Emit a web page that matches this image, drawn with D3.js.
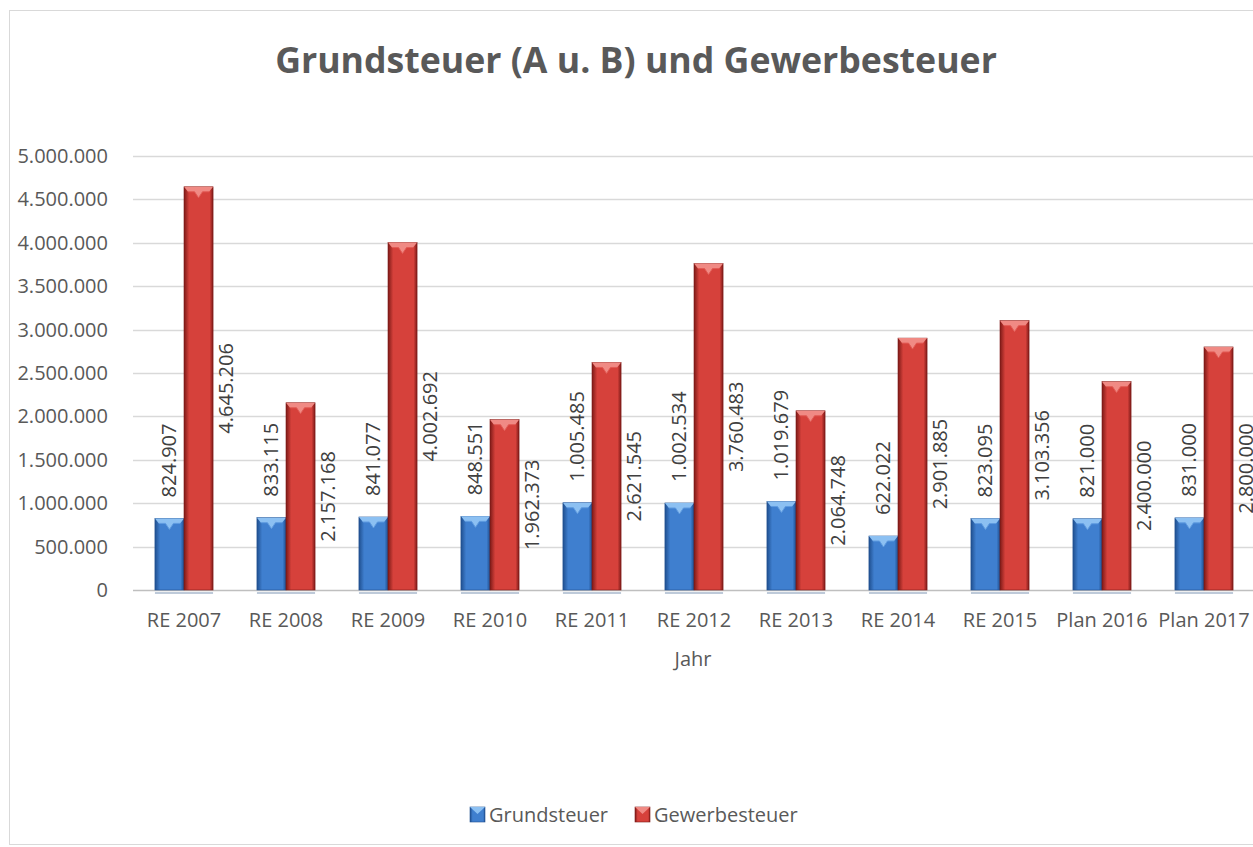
<!DOCTYPE html>
<html>
<head>
<meta charset="utf-8">
<script src="https://cdn.jsdelivr.net/npm/d3@7"></script>
<style>
  body { margin: 0; background: #fff; }
  svg { display: block; font-family: 'Open Sans', sans-serif; }
</style>
</head>
<body>
<div id="chart"></div>
<script>
'use strict';

var categories = ['RE 2007', 'RE 2008', 'RE 2009', 'RE 2010', 'RE 2011', 'RE 2012', 'RE 2013', 'RE 2014', 'RE 2015', 'Plan 2016', 'Plan 2017'];
var grundsteuer = [824907, 833115, 841077, 848551, 1005485, 1002534, 1019679, 622022, 823095, 821000, 831000];
var gewerbesteuer = [4645206, 2157168, 4002692, 1962373, 2621545, 3760483, 2064748, 2901885, 3103356, 2400000, 2800000];
var seriesNames = ['Grundsteuer', 'Gewerbesteuer'];
var yMax = 5000000;

var width = 1253, height = 847;
var margin = {top: 156, right: -2, bottom: 257, left: 133};

var de = d3.formatLocale({decimal: ',', thousands: '.', grouping: [3], currency: ['', ' €']});
var fmt = de.format(',d');

// bevel colours per series: [edge, mid, light top]
var palette = [
  {dark: '#1f4f8f', mid: '#3f7fcf', light: '#8cc0f2', top: '#5f9be0'},
  {dark: '#7d1a17', mid: '#d6413b', light: '#f08a84', top: '#e25b55'}
];

var svg = d3.select('#chart').append('svg')
  .attr('width', width)
  .attr('height', height);

var defs = svg.append('defs');
palette.forEach(function(p, i) {
  var g = defs.append('linearGradient').attr('id', 'grad' + i)
    .attr('x1', '0%').attr('x2', '100%').attr('y1', '0%').attr('y2', '0%');
  g.append('stop').attr('offset', '0%').attr('stop-color', p.dark);
  g.append('stop').attr('offset', '18%').attr('stop-color', p.mid);
  g.append('stop').attr('offset', '55%').attr('stop-color', p.mid);
  g.append('stop').attr('offset', '88%').attr('stop-color', p.mid);
  g.append('stop').attr('offset', '100%').attr('stop-color', p.dark);
});

// outer chart border
svg.append('rect')
  .attr('x', 9.5).attr('y', 10.5)
  .attr('width', width + 20).attr('height', height - 13)
  .attr('fill', 'none').attr('stroke', '#d9d9d9');

var x = d3.scaleBand()
  .domain(categories)
  .range([margin.left, width - margin.right])
  .paddingInner(0.43)
  .paddingOuter(0.215);

var xs = d3.scaleBand().domain([0, 1]).range([0, x.bandwidth()]);

var y = d3.scaleLinear()
  .domain([0, yMax])
  .range([height - margin.bottom, margin.top]);

// grid
svg.append('g').selectAll('line')
  .data(y.ticks(10))
  .join('line')
  .attr('x1', margin.left).attr('x2', width)
  .attr('y1', function(d) { return Math.round(y(d)) + 0.5; })
  .attr('y2', function(d) { return Math.round(y(d)) + 0.5; })
  .attr('stroke', function(d) { return d === 0 ? '#bfbfbf' : '#d9d9d9'; })
  .attr('stroke-width', 1.5);

// y tick labels
svg.append('g').selectAll('text')
  .data(y.ticks(10))
  .join('text')
  .attr('x', 108)
  .attr('y', function(d) { return y(d); })
  .attr('dy', '0.35em')
  .attr('text-anchor', 'end')
  .attr('font-size', 20)
  .attr('fill', '#595959')
  .text(function(d) { return fmt(d); });

// x tick labels
svg.append('g').selectAll('text')
  .data(categories)
  .join('text')
  .attr('x', function(d) { return x(d) + x.bandwidth() / 2; })
  .attr('y', 627)
  .attr('text-anchor', 'middle')
  .attr('font-size', 20)
  .attr('fill', '#595959')
  .text(function(d) { return d; });

svg.append('text')
  .attr('x', (margin.left + width) / 2)
  .attr('y', 666)
  .attr('text-anchor', 'middle')
  .attr('font-size', 20)
  .attr('fill', '#595959')
  .text('Jahr');

// bars
var rows = categories.map(function(c, i) {
  return {cat: c, values: [grundsteuer[i], gewerbesteuer[i]]};
});

var groups = svg.append('g').selectAll('g')
  .data(rows)
  .join('g')
  .attr('transform', function(d) { return 'translate(' + x(d.cat) + ',0)'; });

// little reflection under each group
groups.append('line')
  .attr('x1', 0).attr('x2', x.bandwidth())
  .attr('y1', y(0) + 3).attr('y2', y(0) + 3)
  .attr('stroke', '#a9b8cc').attr('stroke-width', 1.5);

var bars = groups.selectAll('g.bar')
  .data(function(d) { return d.values.map(function(v, s) { return {v: v, s: s}; }); })
  .join('g')
  .attr('class', 'bar');

bars.append('rect')
  .attr('x', function(d) { return xs(d.s); })
  .attr('y', function(d) { return y(d.v); })
  .attr('width', xs.bandwidth())
  .attr('height', function(d) { return y(0) - y(d.v); })
  .attr('fill', function(d) { return 'url(#grad' + d.s + ')'; })
  .attr('stroke', function(d) { return palette[d.s].dark; })
  .attr('stroke-width', 0.6);

// top bevel chevron
bars.append('path')
  .attr('d', function(d) {
    var x0 = xs(d.s), w = xs.bandwidth(), t = y(d.v);
    return 'M' + x0 + ',' + t + 'L' + (x0 + w) + ',' + t +
      'L' + (x0 + w - 4) + ',' + (t + 5) + 'L' + (x0 + w / 2 + 4) + ',' + (t + 5) +
      'L' + (x0 + w / 2) + ',' + (t + 11) + 'L' + (x0 + w / 2 - 4) + ',' + (t + 5) +
      'L' + (x0 + 4) + ',' + (t + 5) + 'Z';
  })
  .attr('fill', function(d) { return palette[d.s].light; });

bars.append('path')
  .attr('d', function(d) {
    var x0 = xs(d.s), w = xs.bandwidth(), t = y(d.v);
    return 'M' + (x0 + 4) + ',' + (t + 5) + 'L' + (x0 + w / 2 - 4) + ',' + (t + 5) +
      'L' + (x0 + w / 2) + ',' + (t + 11) + 'L' + (x0 + w / 2 + 4) + ',' + (t + 5) +
      'L' + (x0 + w - 4) + ',' + (t + 5);
  })
  .attr('fill', 'none')
  .attr('stroke', function(d) { return palette[d.s].top; })
  .attr('stroke-width', 1);

// data labels, rotated
bars.append('text')
  .attr('transform', function(d) {
    var w = xs.bandwidth();
    if (d.s === 0) {
      return 'translate(' + (xs(0) + w / 2) + ',' + (y(d.v) - 21) + ') rotate(-90)';
    }
    return 'translate(' + (xs(1) + w + 13) + ',' + ((y(d.v) + y(0)) / 2) + ') rotate(-90)';
  })
  .attr('text-anchor', function(d) { return d.s === 0 ? 'start' : 'middle'; })
  .attr('dy', '0.35em')
  .attr('font-size', 20)
  .attr('fill', '#404040')
  .text(function(d) { return fmt(d.v); });

// title
var title = svg.append('text')
  .attr('x', 636)
  .attr('y', 73)
  .attr('text-anchor', 'middle')
  .attr('font-size', 32)
  .attr('font-weight', 'bold')
  .attr('fill', '#595959')
  .text('Grundsteuer (A u. B) und Gewerbesteuer');
var tw = title.node().getComputedTextLength();
title.attr('font-size', 32 * 722 / tw);

// legend
var legend = svg.append('g').attr('transform', 'translate(470,815)');
var lx = [0, 165];
seriesNames.forEach(function(name, i) {
  var g = legend.append('g').attr('transform', 'translate(' + lx[i] + ',0)');
  g.append('rect')
    .attr('x', 0).attr('y', -8).attr('width', 15).attr('height', 15)
    .attr('fill', 'url(#grad' + i + ')')
    .attr('stroke', palette[i].dark).attr('stroke-width', 0.6);
  g.append('path')
    .attr('d', 'M0,-8L15,-8L7.5,-1Z')
    .attr('fill', palette[i].light);
  g.append('text')
    .attr('x', 19).attr('y', 0).attr('dy', '0.35em')
    .attr('font-size', 20)
    .attr('fill', '#595959')
    .text(name);
});
</script>
</body>
</html>
